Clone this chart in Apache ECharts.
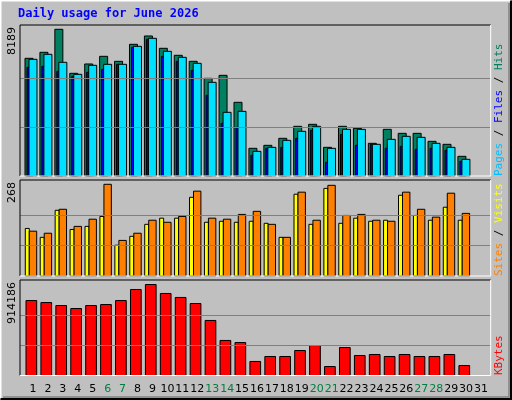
<!DOCTYPE html>
<html><head><meta charset="utf-8">
<script src="https://cdn.jsdelivr.net/npm/echarts@6/dist/echarts.min.js"></script>
<style>html,body{margin:0;padding:0;background:#c0c0c0}#c{width:512px;height:400px}</style>
</head><body><div id="c"></div>
<script>
const days = ['1','2','3','4','5','6','7','8','9','10','11','12','13','14','15','16','17','18','19','20','21','22','23','24','25','26','27','28','29','30','31'];
const weekend = ['6','7','13','14','20','21','27','28'];
const hits  = [6570,6905,8189,5732,6253,6681,6402,7351,7816,7128,6737,6402,5453,5620,4113,1545,1712,2103,2773,2885,1600,2773,2661,1824,2605,2382,2382,1935,1768,1098];
const files = [6514,6793,6346,5676,6179,6234,6234,7239,7686,6960,6625,6290,5229,3555,3610,1377,1600,1991,2494,2773,1545,2605,2605,1768,2047,2215,2159,1824,1600,931];
const pages = [6067,6123,5844,5564,5788,5955,6234,7183,7630,6681,6402,5899,4504,2940,2717,1154,1545,1600,2103,2550,763,2326,1712,1768,1545,1656,1489,1545,1433,819];
const sites = [139,113,192,136,145,174,90,116,151,169,169,230,157,160,157,160,154,113,239,151,256,154,169,160,163,236,177,163,201,163];
const visits= [131,125,195,145,166,268,104,125,163,157,174,248,169,166,180,189,151,113,245,163,265,177,180,163,160,245,195,172,242,183];
const kbytes= [753000,733000,703000,673000,703000,713000,753000,864000,914186,824000,784000,723000,553000,352000,331000,141000,191000,191000,251000,301000,90000,281000,201000,211000,191000,211000,191000,191000,211000,100000];
const maxLabels = ['8189','268','914186'];

const panels = [{top:25,h:151,max:8189*151/146.7,gm:8189},{top:180,h:96,max:268*96/91.7,gm:268},{top:280,h:95.5,max:914186*95.5/91,gm:914186}];
const X0=20, XW=470.7;
function c(api, d){ return api.coord([d,0])[0]; }
function rect(x0,x1,y0,y1,fill){return {type:'rect',shape:{x:x0,y:y1,width:x1-x0,height:y0-y1},style:{fill:fill,stroke:'#000',lineWidth:1}};}

const grid=[], xAxis=[], yAxis=[], series=[];
panels.forEach((p,i)=>{
  grid.push({left:X0,top:p.top,width:XW,height:p.h});
  xAxis.push({type:'value',gridIndex:i,min:0.13,max:31.66,show:false});
  yAxis.push({type:'value',gridIndex:i,min:0,max:p.max,show:false});
});
grid.push({left:25.5,top:383,width:463,height:1});
xAxis.push({type:'category',gridIndex:3,data:days,axisLine:{show:false},axisTick:{show:false},
  axisLabel:{interval:0,margin:0,fontFamily:'DejaVu Sans',fontSize:11,color:(v)=>weekend.includes(v)?'#008040':'#000'}});
yAxis.push({type:'value',gridIndex:3,show:false});

function gl(p){return {silent:true,symbol:'none',label:{show:false},lineStyle:{color:'#808080',type:'solid',width:1},data:[{yAxis:p.gm/3},{yAxis:p.gm*2/3}]};}

series.push({type:'custom',xAxisIndex:0,yAxisIndex:0,data:hits.map((v,i)=>[i+1,v,files[i],pages[i]]),
  markLine:gl(panels[0]),
  renderItem:(params,api)=>{const d=api.value(0),x=c(api,d),b=api.coord([d,0])[1];
    return {type:'group',children:[
      rect(x-8,x,b,api.coord([d,api.value(1)])[1],'#008060'),
      rect(x-6,x-3.5,b,api.coord([d,api.value(3)])[1],'#0000ff'),
      rect(x-4,x+4,b,api.coord([d,api.value(2)])[1],'#00e0ff')]};}});
series.push({type:'custom',xAxisIndex:1,yAxisIndex:1,data:sites.map((v,i)=>[i+1,v,visits[i]]),
  markLine:gl(panels[1]),
  renderItem:(params,api)=>{const d=api.value(0),x=c(api,d),b=api.coord([d,0])[1];
    return {type:'group',children:[
      rect(x-7.7,x-3.7,b,api.coord([d,api.value(1)])[1],'#ffff00'),
      rect(x-3.7,x+3.7,b,api.coord([d,api.value(2)])[1],'#ff8000')]};}});
series.push({type:'custom',xAxisIndex:2,yAxisIndex:2,data:kbytes.map((v,i)=>[i+1,v]),
  markLine:gl(panels[2]),
  renderItem:(params,api)=>{const d=api.value(0),x=c(api,d),b=api.coord([d,0])[1];
    return rect(x-7,x+3.7,b,api.coord([d,api.value(1)])[1],'#ff0000');}});

const g=[
  {type:'polyline',shape:{points:[[0.5,399],[0.5,0.5],[511,0.5]]},style:{stroke:'#fff',lineWidth:2,fill:null}},
  {type:'polyline',shape:{points:[[511,0.5],[511,399],[0.5,399]]},style:{stroke:'#000',lineWidth:2,fill:null}},
  {type:'polyline',shape:{points:[[3,397],[509,397],[509,3]]},style:{stroke:'#808080',lineWidth:1.5,fill:null}},
  {type:'text',left:18,top:8,style:{text:'Daily usage for June 2026',fill:'#0000ff',font:'bold 12px "DejaVu Sans Mono"'}}
];
panels.forEach((p,i)=>{
  const y0=p.top, y1=p.top+p.h;
  g.push({type:'polyline',shape:{points:[[X0,y1],[X0,y0],[X0+XW,y0]]},style:{stroke:'#000',lineWidth:1,fill:null},z:10});
  g.push({type:'polyline',shape:{points:[[X0+XW,y0],[X0+XW,y1],[X0,y1]]},style:{stroke:'#fff',lineWidth:1,fill:null},z:10});
  g.push({type:'text',x:7,y:y0+2,rotation:Math.PI/2,style:{text:maxLabels[i],fill:'#000',font:'11px "DejaVu Sans"',align:'right',verticalAlign:'top'}});
});
const rl=[
  {y:176,rich:[['Pages','#00c0ff'],[' / ','#000'],['Files','#0000ff'],[' / ','#000'],['Hits','#008060']]},
  {y:276,rich:[['Sites','#ff8000'],[' / ','#000'],['Visits','#ffff00']]},
  {y:375,rich:[['KBytes','#ff0000']]}
];
rl.forEach(r=>{
  const rich={}; let t='';
  r.rich.forEach((s,k)=>{rich['s'+k]={fill:s[1],font:'11px "DejaVu Sans Mono"'}; t+='{s'+k+'|'+s[0]+'}';});
  g.push({type:'text',x:494,y:r.y,rotation:Math.PI/2,style:{text:t,rich:rich,align:'left',verticalAlign:'top'}});
});

const ch=echarts.init(document.getElementById('c'),null,{renderer:'canvas'});
ch.setOption({backgroundColor:'#c0c0c0',animation:false,grid,xAxis,yAxis,series,graphic:g});
</script></body></html>
